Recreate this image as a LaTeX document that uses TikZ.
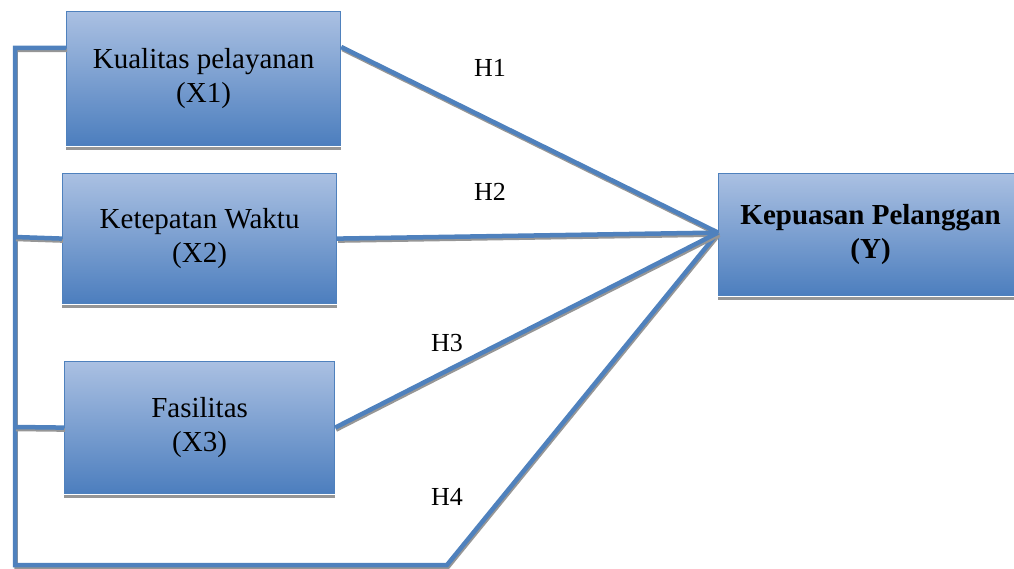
\documentclass[tikz,border=0pt]{standalone}
\usepackage{fontspec}
\setmainfont{Liberation Serif}
\usetikzlibrary{calc}
\definecolor{boxtop}{RGB}{170,192,226}
\definecolor{boxbot}{RGB}{76,126,190}
\definecolor{lineblue}{RGB}{79,129,189}
\definecolor{shadowgray}{RGB}{150,150,150}
\tikzset{
  varbox/.style={rectangle, anchor=north west, inner sep=0pt, draw=lineblue, line width=1.2pt,
    top color=boxtop, bottom color=boxbot, align=center,
    font=\fontsize{29}{34}\selectfont},
  conn/.style={draw=lineblue, line width=4.5pt, line join=miter,
    preaction={draw=shadowgray, line width=3.5pt, transform canvas={xshift=1pt,yshift=-2.5pt}}},
  hlabel/.style={font=\fontsize{26}{30}\selectfont, inner sep=0pt},
  boxshadow/.style={fill=shadowgray}
}
\begin{document}
\begin{tikzpicture}[x=1pt,y=-1pt]
\useasboundingbox (0,0) rectangle (1014,569);
% boxes
\node[varbox, minimum width=274pt, minimum height=134pt] (x1) at (66,11) {Kualitas pelayanan\\(X1)};
\node[varbox, minimum width=274pt, minimum height=130pt] (x2) at (62,173) {Ketepatan Waktu\\(X2)};
\node[varbox, minimum width=270pt, minimum height=132pt] (x3) at (64,361) {Fasilitas\\(X3)};
\node[varbox, minimum width=304pt, minimum height=122pt, font=\fontsize{29}{34}\selectfont\bfseries] (y) at (718,173) {Kepuasan Pelanggan\\(Y)};
% box shadows
\foreach \b in {x1,x2,x3,y}{
  \fill[boxshadow] ([yshift=-0.6pt]\b.south west) rectangle ([yshift=-4pt]\b.south east);
}
% coordinates
\coordinate (x1l) at ([yshift=-37pt]x1.north west);
\coordinate (x1r) at ([yshift=-36pt]x1.north east);
\coordinate (tl) at (15,48);
\coordinate (bl) at (15,565);
\coordinate (br) at (447,565);
\coordinate (x2j) at (15,237);
\coordinate (x3j) at (15,427);
\coordinate (yin) at ([yshift=2pt]y.west);
% connectors
\draw[conn] (x1l) -- (tl) -- (bl) -- (br) -- (yin);
\draw[conn] (x2.west) -- (x2j);
\draw[conn] (x3.west) -- (x3j);
\draw[conn] (x1r) -- (yin);
\draw[conn] (x2.east) -- (yin);
\draw[conn] (x3.east) -- (yin);
% labels
\node[hlabel] (h1) at (490,68) {H1};
\node[hlabel] (h2) at (490,192) {H2};
\node[hlabel] (h3) at (447,343) {H3};
\node[hlabel] (h4) at (447,497) {H4};
\end{tikzpicture}
\end{document}
